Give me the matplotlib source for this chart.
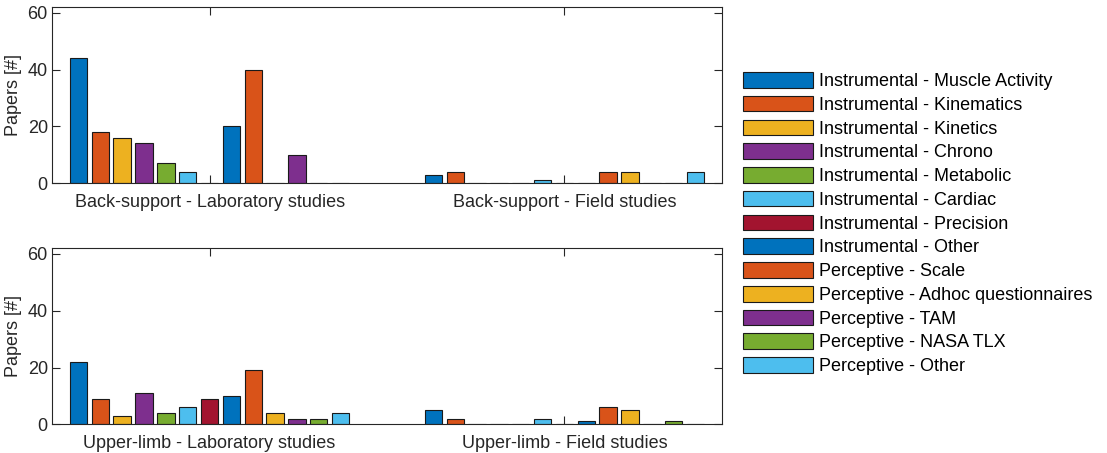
import matplotlib
matplotlib.use("Agg")
import matplotlib.pyplot as plt
import numpy as np

plt.rcParams['font.family'] = ['Liberation Sans', 'DejaVu Sans']

# measures (legend order)
measures = [
    "Instrumental - Muscle Activity",
    "Instrumental - Kinematics",
    "Instrumental - Kinetics",
    "Instrumental - Chrono",
    "Instrumental - Metabolic",
    "Instrumental - Cardiac",
    "Instrumental - Precision",
    "Instrumental - Other",
    "Perceptive - Scale",
    "Perceptive - Adhoc questionnaires",
    "Perceptive - TAM",
    "Perceptive - NASA TLX",
    "Perceptive - Other",
]

# papers per measure, one list per study group
bs_lab = [44, 18, 16, 14, 7, 4, 0, 20, 40, 0, 10, 0, 0]
bs_field = [3, 4, 0, 0, 0, 1, 0, 0, 4, 4, 0, 0, 4]
ul_lab = [22, 9, 3, 11, 4, 6, 9, 10, 19, 4, 2, 2, 4]
ul_field = [5, 2, 0, 0, 0, 2, 0, 1, 6, 5, 0, 1, 0]

top_labels = ["Back-support - Laboratory studies", "Back-support - Field studies"]
bottom_labels = ["Upper-limb - Laboratory studies", "Upper-limb - Field studies"]

# matlab default colour order
colors = ["#0072BD", "#D95319", "#EDB120", "#7E2F8E", "#77AC30", "#4DBEEE", "#A2142F",
          "#0072BD", "#D95319", "#EDB120", "#7E2F8E", "#77AC30", "#4DBEEE"]

axcol = "#262626"
fs = 13

fig = plt.figure(figsize=(11.07, 4.53), dpi=100)
ax1 = fig.add_axes([52 / 1107, (453 - 183.3) / 453, 670 / 1107, 176.3 / 453])
ax2 = fig.add_axes([52 / 1107, (453 - 424.3) / 453, 670 / 1107, 176.0 / 453])

n = len(measures)
step = 0.8 / n
width = 0.8 * step
x = np.array([1, 2])

handles = []
for ax, lab, fld, ticklabels in [(ax1, bs_lab, bs_field, top_labels),
                                 (ax2, ul_lab, ul_field, bottom_labels)]:
    for i in range(n):
        offs = (i - (n - 1) / 2) * step
        b = ax.bar(x + offs, [lab[i], fld[i]], width, color=colors[i],
                   edgecolor="#1a1a1a", linewidth=0.8, label=measures[i], zorder=2)
        if ax is ax1:
            handles.append(b)
    ax.set_xlim(0.556, 2.444)
    ax.set_ylim(0, 62)
    ax.set_yticks([0, 20, 40, 60])
    ax.set_xticks(x)
    ax.set_xticklabels(ticklabels)
    ax.set_ylabel("Papers [#]", fontsize=fs, color=axcol, labelpad=4)
    ax.tick_params(direction="in", length=5.5, width=0.8, colors=axcol, labelsize=fs,
                   top=True, right=True, pad=3)
    ax.tick_params(axis="x", pad=8)
    for s in ax.spines.values():
        s.set_color(axcol)
        s.set_linewidth(0.8)

fig.legend(handles=handles, labels=measures, loc="upper left",
           bbox_to_anchor=(743 / 1107, 1 - 72 / 453), frameon=False,
           fontsize=fs, handlelength=3.9, handleheight=0.95, handletextpad=0.3,
           labelspacing=0.32, borderpad=0, borderaxespad=0)

fig.savefig("out.png", dpi=100)
